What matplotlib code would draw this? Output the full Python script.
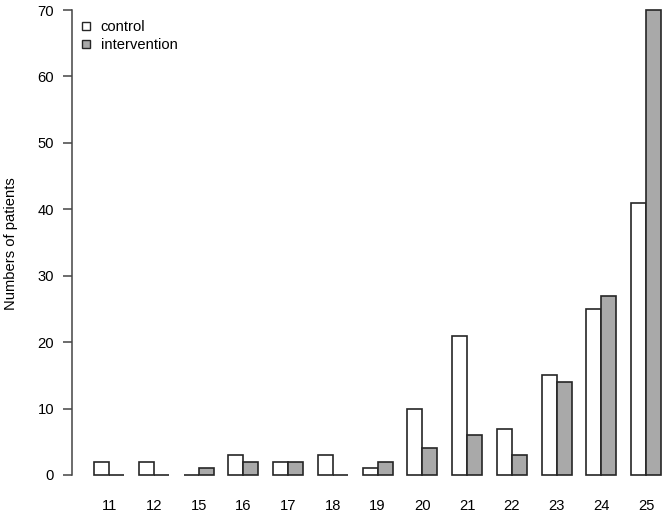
import matplotlib
matplotlib.use('Agg')
import matplotlib.pyplot as plt
from matplotlib.lines import Line2D
import numpy as np

# Scores and patient counts
scores = ["11", "12", "15", "16", "17", "18", "19", "20", "21", "22", "23", "24", "25"]
control = [2, 2, 0, 3, 2, 3, 1, 10, 21, 7, 15, 25, 41]
intervention = [0, 0, 1, 2, 2, 0, 2, 4, 6, 3, 14, 27, 70]

plt.rcParams['font.family'] = ['Liberation Sans', 'DejaVu Sans']
fs = 10.6

W, H = 666, 516
fig = plt.figure(figsize=(W / 100, H / 100), dpi=100)
# axes placed in pixel terms (R-style barplot, 4% x padding)
left_px, right_px = 71.5, 683.7
top_px, bot_px = 10, 475
ax = fig.add_axes([left_px / W, 1 - bot_px / H,
                   (right_px - left_px) / W, (bot_px - top_px) / H])

idx = np.arange(len(scores))
x_ctrl = 1.5 + 3 * idx
x_int = 2.5 + 3 * idx
edge = '#262626'
ax.bar(x_ctrl, control, width=1, color='white', edgecolor=edge, linewidth=1.2, clip_on=False)
ax.bar(x_int, intervention, width=1, color='#a9a9a9', edgecolor=edge, linewidth=1.2, clip_on=False)

ax.set_xlim(-0.52, 40.52)
ax.set_ylim(0, 70)

for s in ['top', 'right', 'bottom']:
    ax.spines[s].set_visible(False)
ax.spines['left'].set_bounds(0, 70)
ax.spines['left'].set_color('#444444')
ax.spines['left'].set_linewidth(1.1)

ax.set_yticks(range(0, 71, 10))
ax.tick_params(axis='y', length=6.5, width=1.1, color='#444444', pad=6, labelsize=fs)
ax.set_xticks(2 + 3 * idx)
ax.set_xticklabels(scores)
ax.tick_params(axis='x', length=0, pad=17, labelsize=fs)

fig.text(11 / W, 1 - 244 / H, "Numbers of patients", rotation=90,
         ha='center', va='center', fontsize=fs)

handles = [
    Line2D([], [], marker='s', linestyle='none', markersize=6,
           markerfacecolor='white', markeredgecolor=edge, markeredgewidth=1),
    Line2D([], [], marker='s', linestyle='none', markersize=6,
           markerfacecolor='#a9a9a9', markeredgecolor=edge, markeredgewidth=1),
]
fig.legend(handles, ["control", "intervention"], loc='upper left',
           bbox_to_anchor=(80 / W, 1 - 20 / H), frameon=False, fontsize=fs,
           handlelength=0.8, handletextpad=0.6, labelspacing=0.3,
           borderaxespad=0, borderpad=0)

fig.savefig("out.png", dpi=100)
